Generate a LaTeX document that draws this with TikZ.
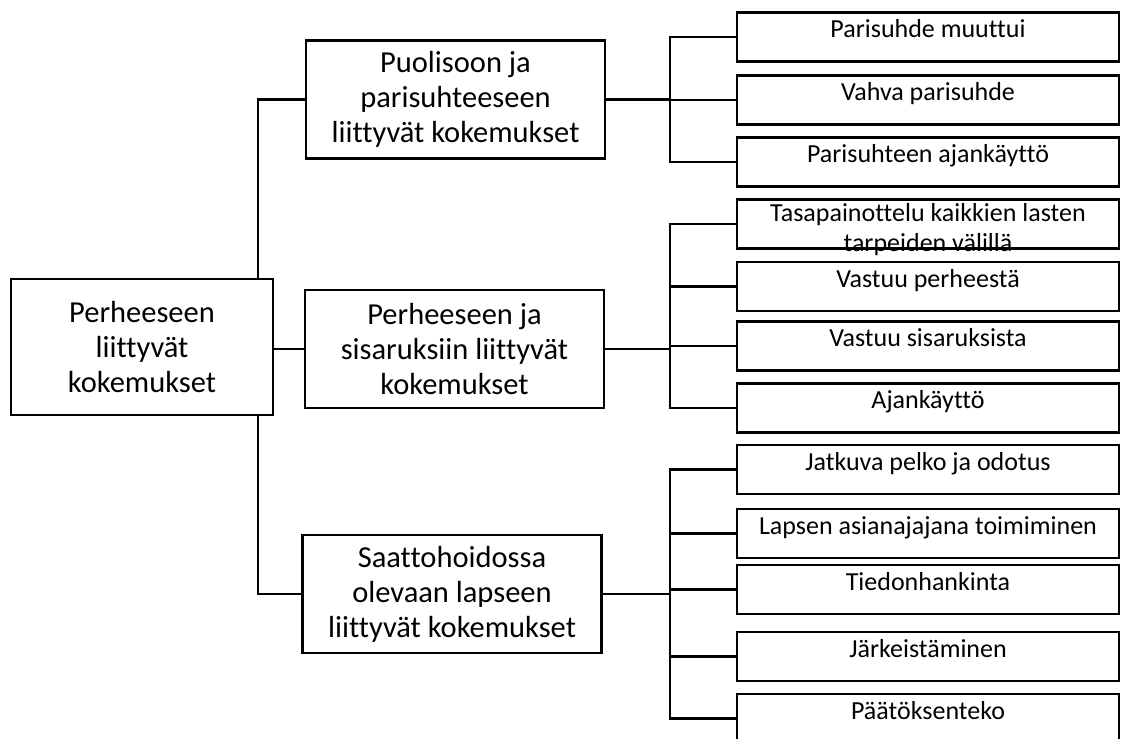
\documentclass[tikz,border=0pt]{standalone}
\usepackage{fontspec}
\setmainfont{Carlito}[Ligatures=CommonOff]
\usepackage{tikz}

\begin{document}
\begin{tikzpicture}[
    x=1pt, y=-1pt,
    root/.style={rectangle, draw=black, fill=white, line width=2.4pt, minimum width=262pt, minimum height=136pt, align=center, font=\fontsize{30.5}{35}\selectfont},
    cat/.style={rectangle, draw=black, fill=white, line width=2.4pt, minimum width=299pt, minimum height=118pt, align=center, font=\fontsize{30.5}{35}\selectfont},
    leaf/.style={rectangle, draw=black, fill=white, line width=2.4pt, minimum width=382pt, minimum height=49pt},
    leaftxt/.style={anchor=north, inner sep=0pt, yshift=-8pt, text height=18pt, text depth=6pt, font=\fontsize{26}{29}\selectfont},
    twotxt/.style={anchor=north, inner sep=0pt, yshift=-5pt, align=center, font=\fontsize{26}{30}\selectfont},
    conn/.style={line width=2.6pt, color=black}
]
\useasboundingbox (0,0) rectangle (1123,738);
\clip (0,0) rectangle (1123,738);

% Root
\node[root] (root) at (142,347) {Perheeseen\\liittyvät\\kokemukset};

% Category boxes
\node[cat] (puoliso) at (455.5,99.5) {Puolisoon ja\\parisuhteeseen\\liittyvät kokemukset};
\node[cat] (perhe) at (454.5,349) {Perheeseen ja\\sisaruksiin liittyvät\\kokemukset};
\node[cat] (lapsi) at (452,594) {Saattohoidossa\\olevaan lapseen\\liittyvät kokemukset};

% Leaves
\node[leaf, label={[leaftxt]north:Parisuhde muuttui}] (muuttui) at (928,37) {};
\node[leaf, label={[leaftxt]north:Vahva parisuhde}] (vahva) at (928,100) {};
\node[leaf, label={[leaftxt]north:Parisuhteen ajankäyttö}] (pariaika) at (928,162) {};
\node[leaf, label={[twotxt]north:Tasapainottelu kaikkien lasten\\tarpeiden välillä}] (tasapaino) at (928,224) {};
\node[leaf, label={[leaftxt]north:Vastuu perheestä}] (vperhe) at (928,286.5) {};
\node[leaf, label={[leaftxt]north:Vastuu sisaruksista}] (vsisar) at (928,346) {};
\node[leaf, label={[leaftxt]north:Ajankäyttö}] (aika) at (928,408) {};
\node[leaf, label={[leaftxt]north:Jatkuva pelko ja odotus}] (pelko) at (928,469.5) {};
\node[leaf, label={[leaftxt]north:Lapsen asianajajana toimiminen}] (asianaj) at (928,533.5) {};
\node[leaf, label={[leaftxt]north:Tiedonhankinta}] (tieto) at (928,589.5) {};
\node[leaf, label={[leaftxt]north:Järkeistäminen}] (jarki) at (928,656.5) {};
\node[leaf, label={[leaftxt]north:Päätöksenteko}] (paatos) at (928,718.5) {};

% Bus points
\coordinate (bus0) at (258,347);
\coordinate (bus1) at (670,99.5);
\coordinate (bus2) at (670,349);
\coordinate (bus3) at (670,594);

% Connections
\draw[conn] (root.north -| bus0) |- (puoliso.west);
\draw[conn] (root.east |- perhe.west) -- (perhe.west);
\draw[conn] (root.south -| bus0) |- (lapsi.west);

\draw[conn] (puoliso.east) -- (bus1);
\foreach \l in {muuttui, vahva, pariaika}
    \draw[conn] (bus1) |- (\l.west);

\draw[conn] (perhe.east) -- (bus2);
\foreach \l in {tasapaino, vperhe, vsisar, aika}
    \draw[conn] (bus2) |- (\l.west);

\draw[conn] (lapsi.east) -- (bus3);
\foreach \l in {pelko, asianaj, tieto, jarki, paatos}
    \draw[conn] (bus3) |- (\l.west);

\end{tikzpicture}
\end{document}
